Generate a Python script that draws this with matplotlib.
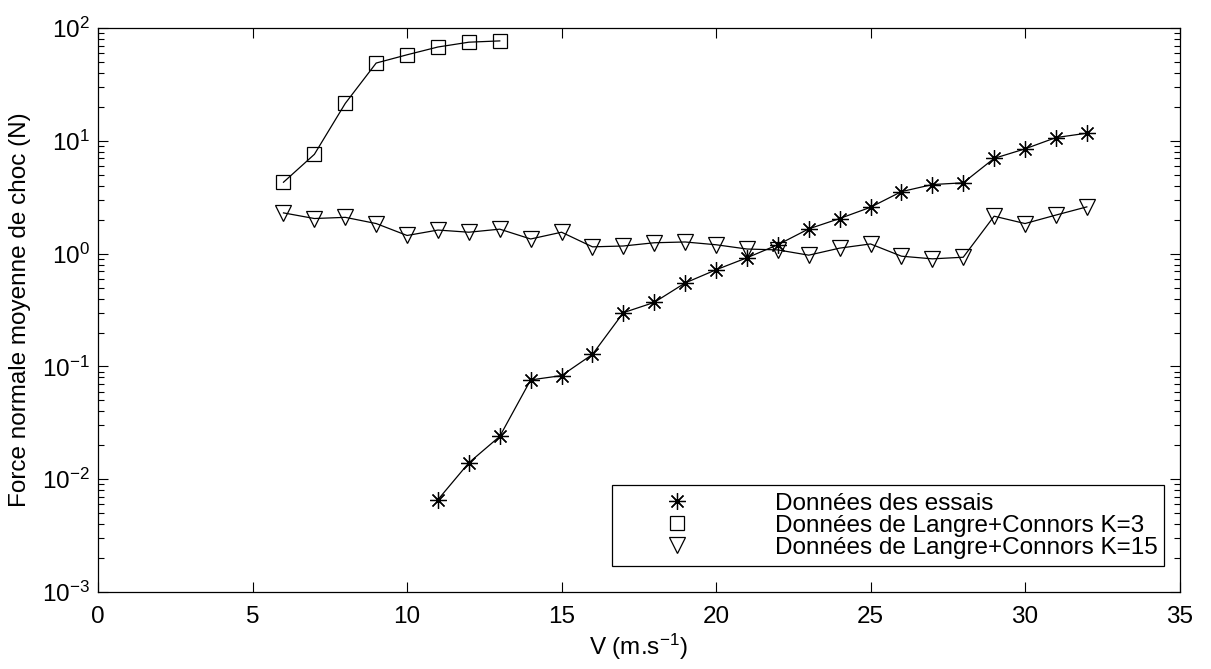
import matplotlib
matplotlib.use("Agg")
import matplotlib.pyplot as plt

plt.rcParams["font.family"] = ["Liberation Sans", "DejaVu Sans"]
plt.rcParams["mathtext.fontset"] = "custom"
plt.rcParams["mathtext.rm"] = "Liberation Sans"
plt.rcParams["mathtext.it"] = "Liberation Sans:italic"

# Données des essais
v_essais = [11, 12, 13, 14, 15, 16, 17, 18, 19, 20, 21, 22, 23, 24, 25, 26, 27, 28, 29, 30, 31, 32]
f_essais = [0.0066, 0.0140, 0.0240, 0.076, 0.083, 0.128, 0.30, 0.37, 0.55, 0.72, 0.92, 1.20,
            1.66, 2.05, 2.58, 3.55, 4.10, 4.25, 7.0, 8.5, 10.7, 11.7]

# Langre+Connors K=3
v_k3 = [6, 7, 8, 9, 10, 11, 12, 13]
f_k3 = [4.3, 7.6, 21.5, 49, 58, 68, 75, 77]

# Langre+Connors K=15
v_k15 = list(range(6, 33))
f_k15 = [2.3, 2.05, 2.1, 1.85, 1.45, 1.62, 1.55, 1.65, 1.35, 1.55, 1.15, 1.17, 1.25, 1.27,
         1.20, 1.10, 1.08, 0.97, 1.12, 1.22, 0.95, 0.90, 0.93, 2.15, 1.85, 2.2, 2.6]

fs = 17.5

fig = plt.figure(figsize=(12.11, 6.69), dpi=100)
ax = fig.add_axes([0.081, 0.115, 0.893, 0.843])

ax.plot(v_essais, f_essais, color="black", lw=0.9)
ax.plot(v_k3, f_k3, color="black", lw=0.9)
ax.plot(v_k15, f_k15, color="black", lw=0.9)

m1, = ax.plot(v_essais, f_essais, ls="none", marker=(8, 2, 0), ms=12, mec="black", mew=0.9)
m2, = ax.plot(v_k3, f_k3, ls="none", marker="s", ms=10.5, mfc="none", mec="black", mew=0.9)
m3, = ax.plot(v_k15, f_k15, ls="none", marker="v", ms=12, mfc="none", mec="black", mew=0.9)

ax.set_yscale("log")
ax.set_xlim(0, 35)
ax.set_ylim(1e-3, 1e2)
ax.set_xticks([0, 5, 10, 15, 20, 25, 30, 35])

ax.tick_params(which="both", direction="in", top=True, right=True, labelsize=fs)
ax.tick_params(which="major", length=7, width=0.8)
ax.tick_params(which="minor", length=4, width=0.8)
ax.tick_params(axis="x", pad=10)
ax.tick_params(axis="y", pad=6)
for s in ax.spines.values():
    s.set_linewidth(0.9)

ax.set_xlabel("V (m.s$^{-1}$)", fontsize=fs, labelpad=3)
ax.set_ylabel("Force normale moyenne de choc (N)", fontsize=fs, labelpad=8)

leg = ax.legend([m1, m2, m3],
                ["Données des essais", "Données de Langre+Connors K=3",
                 "Données de Langre+Connors K=15"],
                loc="lower left", bbox_to_anchor=(0.475, 0.046, 0.511, 0.151),
                mode="expand", borderaxespad=0, fontsize=fs, fancybox=False,
                edgecolor="black", framealpha=1, labelspacing=0.0, handlelength=4.8,
                handletextpad=1.6, borderpad=0.3)
leg.get_frame().set_linewidth(0.9)

fig.savefig("out.png", dpi=100)
